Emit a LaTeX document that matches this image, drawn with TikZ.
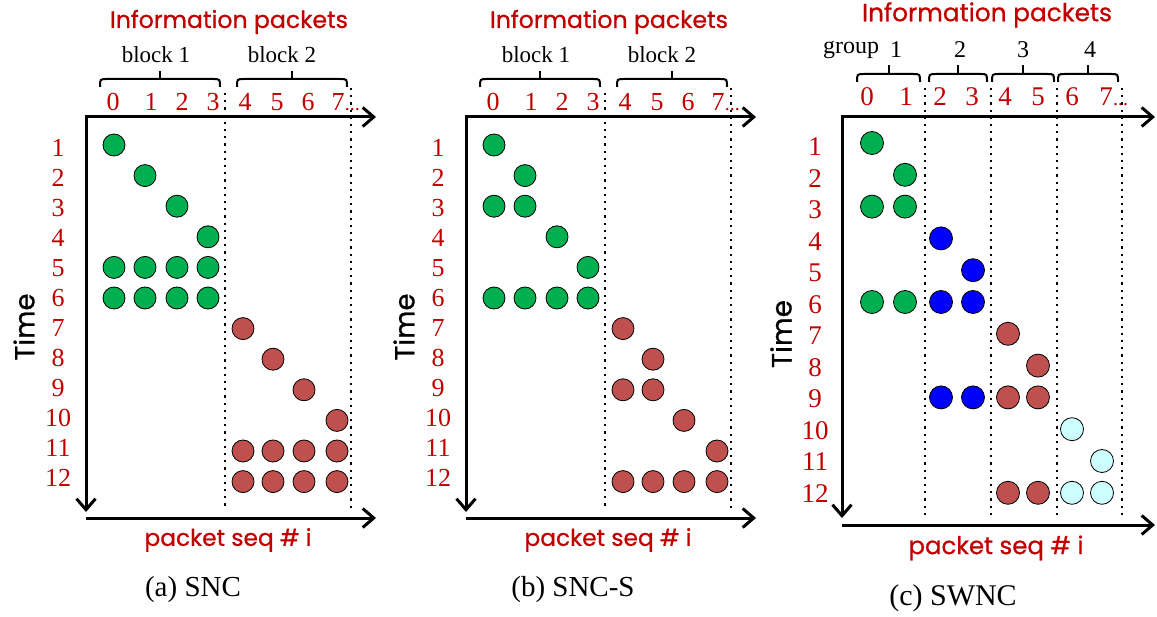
\documentclass[tikz,border=0pt]{standalone}
\usepackage{fontspec}
\usepackage{graphicx}
\setmainfont{Liberation Serif}
\newfontfamily\handfont[FakeBold=0.7]{Poppins}
\usetikzlibrary{arrows.meta}

\definecolor{pktgreen}{HTML}{00B050}
\definecolor{pktred}{HTML}{C0504D}
\definecolor{pktblue}{HTML}{0000FF}
\definecolor{pktcyan}{HTML}{CCFFFF}
\definecolor{lblred}{HTML}{C00000}

\tikzset{
  >={Straight Barb[length=11pt,width=19pt]},
  pkt/.style={circle, draw=black, line width=0.8pt, fill=#1, minimum size=22pt, inner sep=0pt},
  pktc/.style={pkt=#1, minimum size=23pt},
  num/.style={text=lblred, font=\fontsize{26}{26}\selectfont, inner sep=0pt},
  numc/.style={text=lblred, font=\fontsize{27}{27}\selectfont, inner sep=0pt},
  grouplbl/.style={text=black, font=\fontsize{23}{23}\selectfont, inner sep=0pt},
  hand/.style={text=lblred, inner sep=0pt},
  timelbl/.style={text=black, inner sep=0pt, rotate=90},
  caption/.style={text=black, font=\fontsize{29}{29}\selectfont, inner sep=0pt},
  axis/.style={line width=3pt, line join=miter},
  sep/.style={line width=2.2pt, dash pattern=on 2.2pt off 5pt},
  brc/.style={line width=2pt},
}

% horizontal bracket: x-left, x-right, y of the bar, drop of the ends, height of the tick
\newcommand\hbracket[5]{%
  \draw[brc] (#1,#3+#4) .. controls (#1,#3) .. (#1+7,#3) -- (#2-7,#3)
             .. controls (#2,#3) .. (#2,#3+#4);
  \draw[brc] ({(#1+#2)/2},#3) -- ({(#1+#2)/2},#3-#5);
}

% common frame of the block-coding panels
\newcommand\blockframe{%
  \node[hand] (title) at (229,22) {\resizebox{238pt}{!}{\handfont Information packets}};
  \node[grouplbl] (blk1) at (156,55) {block 1};
  \node[grouplbl] (blk2) at (282,55) {block 2};
  \hbracket{100}{220}{79}{8}{8}
  \hbracket{237}{347}{79}{8}{8}
  \foreach \i/\x in {0/113,1/151,2/182,3/213,4/245,5/277,6/308,7/338}
    \node[num] (col\i) at (\x,102) {\i};
  \node[num, anchor=base west, font=\fontsize{20}{20}\selectfont] (more) at (col7.base east) {...};
  \foreach \r in {1,...,12}
    \node[num] (row\r) at (58,{148+30*(\r-1)}) {\r};
  \node[timelbl] (time) at (24,327) {\resizebox{67pt}{!}{\handfont Time}};
  \coordinate (o) at (86,117);
  \coordinate (xend) at (376,117);
  \coordinate (yend) at (86,512);
  \coordinate (b0) at (86,518);
  \coordinate (b1) at (376,518);
  \draw[axis,<->] (xend) -- (o) -- (yend);
  \draw[axis,->] (b0) -- (b1);
  \coordinate (s1t) at (225,93);  \coordinate (s1b) at (225,510);
  \coordinate (s2t) at (351,88);  \coordinate (s2b) at (351,510);
  \draw[sep] (s1t) -- (s1b);
  \draw[sep] (s2t) -- (s2b);
  \node[hand] (xlabel) at (228,540) {\resizebox{167pt}{!}{\handfont packet seq \# i}};
}

\begin{document}
\begin{tikzpicture}[x=1pt,y=-1pt]
\useasboundingbox (0,0) rectangle (1157,617);

% ---------------- (a) SNC ----------------
\begin{scope}[name prefix=a-]
  \blockframe
  \foreach \r/\c/\f in {1/0/pktgreen,2/1/pktgreen,3/2/pktgreen,4/3/pktgreen,
      5/0/pktgreen,5/1/pktgreen,5/2/pktgreen,5/3/pktgreen,
      6/0/pktgreen,6/1/pktgreen,6/2/pktgreen,6/3/pktgreen,
      7/4/pktred,8/5/pktred,9/6/pktred,10/7/pktred,
      11/4/pktred,11/5/pktred,11/6/pktred,11/7/pktred,
      12/4/pktred,12/5/pktred,12/6/pktred,12/7/pktred}{
    \pgfmathsetmacro\cx{{114,145,177,208,243,273,304,337}[\c]}
    \node[pkt=\f] (p\r-\c) at (\cx,{145+30.6*(\r-1)}) {};
  }
  \node[caption] (cap) at (193,590) {(a) SNC};
\end{scope}

% ---------------- (b) SNC-S ----------------
\begin{scope}[name prefix=b-, shift={(380,0)}]
  \blockframe
  \foreach \r/\c/\f in {1/0/pktgreen,2/1/pktgreen,3/0/pktgreen,3/1/pktgreen,
      4/2/pktgreen,5/3/pktgreen,
      6/0/pktgreen,6/1/pktgreen,6/2/pktgreen,6/3/pktgreen,
      7/4/pktred,8/5/pktred,9/4/pktred,9/5/pktred,10/6/pktred,11/7/pktred,
      12/4/pktred,12/5/pktred,12/6/pktred,12/7/pktred}{
    \pgfmathsetmacro\cx{{114,145,177,208,243,273,304,337}[\c]}
    \node[pkt=\f] (p\r-\c) at (\cx,{145+30.6*(\r-1)}) {};
  }
  \node[caption] (cap) at (193,590) {(b) SNC-S};
\end{scope}

% ---------------- (c) SWNC ----------------
\begin{scope}[name prefix=c-]
  \node[hand] (title) at (987,15) {\resizebox{250pt}{!}{\handfont Information packets}};
  \node[grouplbl, font=\fontsize{24}{24}\selectfont] (grp) at (851,50) {group};
  \foreach \g/\x in {1/896,2/960,3/1023,4/1090}
    \node[grouplbl, font=\fontsize{24}{24}\selectfont] (g\g) at (\x,50) {\g};
  \hbracket{857}{920}{74}{8}{9}
  \hbracket{929}{987}{74}{8}{9}
  \hbracket{992}{1054}{74}{8}{9}
  \hbracket{1058}{1118}{74}{8}{9}
  \foreach \i/\x in {0/867,1/906,2/940,3/972,4/1005,5/1038,6/1072,7/1106}
    \node[numc] (col\i) at (\x,97) {\i};
  \node[numc, anchor=base west, font=\fontsize{20}{20}\selectfont] (more) at (col7.base east) {...};
  \foreach \r in {1,...,12}
    \node[numc] (row\r) at (815,{147+31.5*(\r-1)}) {\r};
  \node[timelbl] (time) at (781,334) {\resizebox{68pt}{!}{\handfont Time}};
  \coordinate (o) at (842,117);
  \coordinate (xend) at (1155,117);
  \coordinate (yend) at (842,518);
  \coordinate (b0) at (842,525);
  \coordinate (b1) at (1155,525);
  \draw[axis,<->] (xend) -- (o) -- (yend);
  \draw[axis,->] (b0) -- (b1);
  \foreach \k/\x in {1/925,2/991,3/1057,4/1122}{
    \coordinate (s\k t) at (\x,88);
    \coordinate (s\k b) at (\x,518);
    \draw[sep] (s\k t) -- (s\k b);
  }
  \foreach \r/\c/\f in {1/0/pktgreen,2/1/pktgreen,3/0/pktgreen,3/1/pktgreen,
      4/2/pktblue,5/3/pktblue,
      6/0/pktgreen,6/1/pktgreen,6/2/pktblue,6/3/pktblue,
      7/4/pktred,8/5/pktred,
      9/2/pktblue,9/3/pktblue,9/4/pktred,9/5/pktred,
      10/6/pktcyan,11/7/pktcyan,
      12/4/pktred,12/5/pktred,12/6/pktcyan,12/7/pktcyan}{
    \pgfmathsetmacro\cx{{872,905,941,973,1008,1038,1072,1102}[\c]}
    \node[pktc=\f] (p\r-\c) at (\cx,{143+31.8*(\r-1)}) {};
  }
  \node[hand] (xlabel) at (996,548) {\resizebox{175pt}{!}{\handfont packet seq \# i}};
  \node[caption, font=\fontsize{30}{30}\selectfont] (cap) at (953,598) {(c) SWNC};
\end{scope}
\end{tikzpicture}
\end{document}
